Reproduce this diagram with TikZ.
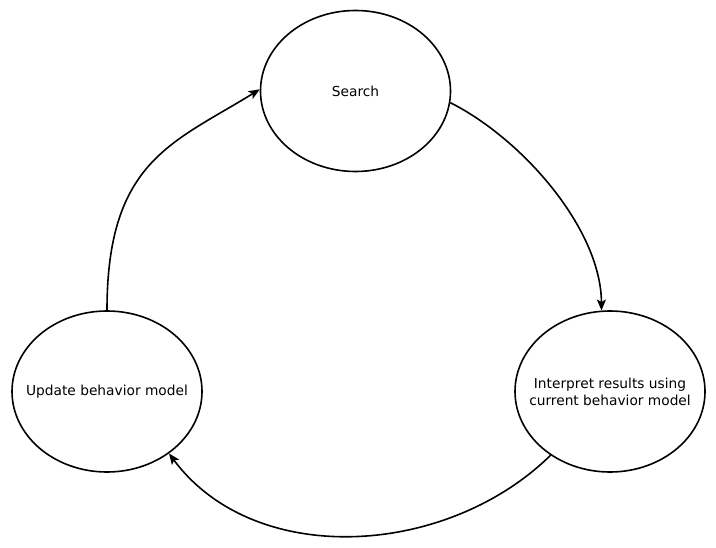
\documentclass[tikz,border=0pt]{standalone}
\usepackage{fontspec}
\setmainfont{DejaVu Sans}
\usetikzlibrary{shapes.geometric,arrows.meta}

\begin{document}
\begin{tikzpicture}[
x=1bp, y=-1bp,
stage/.style={draw, ellipse, line width=1.6bp, fill=white, align=center,
font=\fontsize{13.8}{17}\selectfont, minimum width=190bp, minimum height=161bp,
inner xsep=-30bp, inner ysep=0pt},
arrow/.style={-{Stealth[length=11bp, width=9bp, inset=2.5bp]}, line width=1.6bp}
]
\useasboundingbox (0,0) rectangle (716,548);
\node[stage] (search) at (355.5,91) {Search};
\node[stage] (interpret) at (610,391.5) {Interpret results using\\current behavior model};
\node[stage] (update) at (107,391.5) {Update behavior model};
\draw[arrow] (search.-7) .. controls (524,140) and (601,230) .. (interpret.96);
\draw[arrow] (interpret.-133) .. controls (447,557) and (255,569) .. (update.-45);
\draw[arrow] (update.north) .. controls (107,161) and (173,143) .. (search.179);
\end{tikzpicture}
\end{document}
